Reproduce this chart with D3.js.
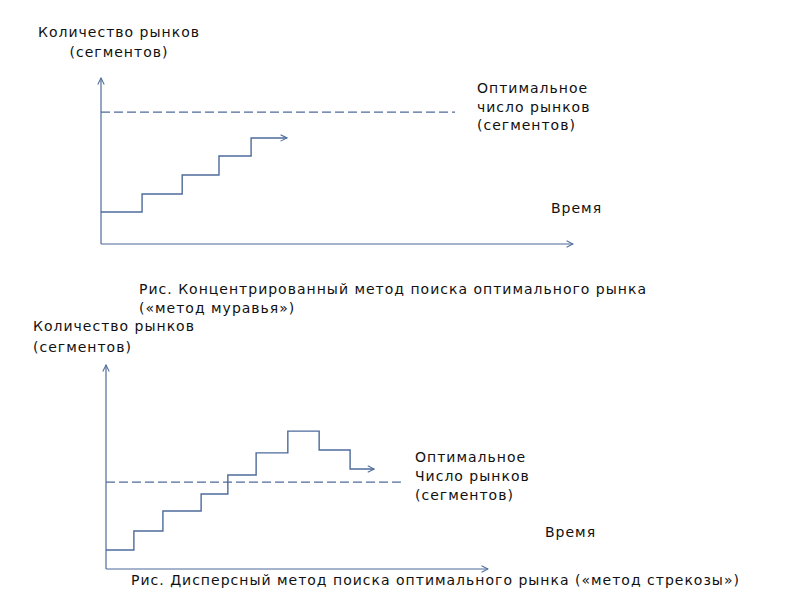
<!DOCTYPE html>
<html>
<head>
<meta charset="utf-8">
<script src="https://cdn.jsdelivr.net/npm/d3@7"></script>
<style>
  body { margin: 0; background: #fff; }
  text { font-family: "DejaVu Sans", sans-serif; font-size: 14px; fill: #111; letter-spacing: 1px; }
</style>
</head>
<body>
<script>
// time / count in relative units 0..100 on each chart
var antTimes = [0, 8.7, 17.2, 25, 31.8, 39.4];
var antLevels = [19.3, 30.1, 41.6, 53, 63.9, 63.9];
var antOptimum = 79.5;
var antOptimumEnd = 75;

var dragonTimes = [0, 7.3, 14.9, 24.9, 31.9, 39.3, 47.6, 55.8, 63.9, 70.2];
var dragonLevels = [9.3, 18.6, 28.4, 36.8, 46.1, 56.9, 67.6, 58.3, 49.0, 49.0];
var dragonOptimum = 42.6;
var dragonOptimumEnd = 77.2;

var yLabel = ['Количество рынков', '(сегментов)'];
var xLabel = 'Время';
var optLabelTop = ['Оптимальное', 'число рынков', '(сегментов)'];
var optLabelBottom = ['Оптимальное', 'Число рынков', '(сегментов)'];
var captionTop = ['Рис. Концентрированный метод поиска оптимального рынка', '(«метод муравья»)'];
var captionBottom = ['Рис. Дисперсный метод поиска оптимального рынка («метод стрекозы»)'];

var color = '#4d6b9a';
var w = 800, h = 600;

var svg = d3.select('body').append('svg')
    .attr('width', w)
    .attr('height', h);

var defs = svg.append('defs');
defs.append('marker')
    .attr('id', 'arrow')
    .attr('viewBox', '0 0 10 10')
    .attr('refX', 9)
    .attr('refY', 5)
    .attr('markerUnits', 'userSpaceOnUse')
    .attr('markerWidth', 8)
    .attr('markerHeight', 8)
    .attr('orient', 'auto')
    .append('path')
    .attr('d', 'M1,1 L9,5 L1,9')
    .attr('fill', 'none')
    .attr('stroke', color)
    .attr('stroke-width', 1.3);

function drawChart(cfg) {
    var x = d3.scaleLinear().domain([0, 100]).range([cfg.x0, cfg.x1]);
    var y = d3.scaleLinear().domain([0, 100]).range([cfg.y0, cfg.y1]);
    var g = svg.append('g');

    // axes
    g.append('line')
        .attr('x1', x(0)).attr('y1', y(0))
        .attr('x2', x(0)).attr('y2', y(100))
        .attr('stroke', color).attr('stroke-width', 1.2)
        .attr('marker-end', 'url(#arrow)');
    g.append('line')
        .attr('x1', x(0)).attr('y1', y(0))
        .attr('x2', x(100)).attr('y2', y(0))
        .attr('stroke', color).attr('stroke-width', 1.2)
        .attr('marker-end', 'url(#arrow)');

    // optimum
    g.append('line')
        .attr('x1', x(0)).attr('y1', y(cfg.optimum))
        .attr('x2', x(cfg.optimumEnd)).attr('y2', y(cfg.optimum))
        .attr('stroke', color).attr('stroke-width', 1.2)
        .attr('stroke-dasharray', '9,4');

    // step path
    var pts = cfg.times.map(function(t, i) { return [t, cfg.levels[i]]; });
    pts.push([cfg.end, cfg.levels[cfg.levels.length - 1]]);
    var line = d3.line()
        .x(function(d) { return x(d[0]); })
        .y(function(d) { return y(d[1]); })
        .curve(d3.curveStepAfter);
    g.append('path')
        .datum(pts)
        .attr('d', line)
        .attr('fill', 'none')
        .attr('stroke', color)
        .attr('stroke-width', 1.4)
        .attr('marker-end', 'url(#arrow)');
}

drawChart({x0: 101, x1: 573, y0: 244, y1: 78,
    times: antTimes.slice(0, -1), levels: antLevels.slice(0, -1), end: antTimes[antTimes.length - 1],
    optimum: antOptimum, optimumEnd: antOptimumEnd});

drawChart({x0: 106, x1: 488, y0: 569, y1: 365,
    times: dragonTimes.slice(0, -1), levels: dragonLevels.slice(0, -1), end: dragonTimes[dragonTimes.length - 1],
    optimum: dragonOptimum, optimumEnd: dragonOptimumEnd});

function label(lines, x, y, dy, anchor) {
    var t = svg.append('text').attr('text-anchor', anchor || 'start');
    lines.forEach(function(s, i) {
        t.append('tspan').attr('x', x).attr('y', y + i * dy).text(s);
    });
}

label(yLabel, 119, 37, 20, 'middle');
label(optLabelTop, 477, 93, 18.5);
label([xLabel], 551, 213, 0);
label(captionTop, 139, 294, 19);

label(yLabel, 33, 331, 21);
label(optLabelBottom, 415, 462, 19);
label([xLabel], 545, 537, 0);
label(captionBottom, 131, 585, 0);
</script>
</body>
</html>
